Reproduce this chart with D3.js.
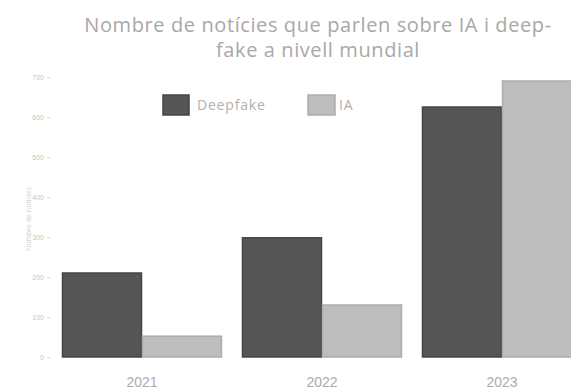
<!DOCTYPE html>
<html>
<head>
<meta charset="utf-8">
<script src="https://cdn.jsdelivr.net/npm/d3@7"></script>
<style>
  html, body { margin: 0; padding: 0; background: #fff; overflow: hidden; }
  svg { display: block; font-family: "Open Sans", "DejaVu Sans", sans-serif; }
</style>
</head>
<body>
<svg id="chart" width="571" height="392"></svg>
<script>
// Anys i sèries
const years = ["2021", "2022", "2023"];
const seriesNames = ["Deepfake", "IA"];
const deepfakeValues = [210, 298, 625];
const iaValues = [52, 130, 690];
const yTicks = [0, 100, 200, 300, 400, 500, 600, 700];
const titleLines = ["Nombre de notícies que parlen sobre IA i deep-", "fake a nivell mundial"];
const yLabel = "Nombre de notícies";

const colors = { Deepfake: "#555555", IA: "#bdbdbd" };
const strokes = { Deepfake: "#454545", IA: "#adadad" };

const svg = d3.select("#chart");

const rows = years.map((y, i) => ({ year: y, Deepfake: deepfakeValues[i], IA: iaValues[i] }));

const x0 = d3.scaleBand().domain(years).range([52, 592]).paddingInner(0.111).paddingOuter(0.0555);
const x1 = d3.scaleBand().domain(seriesNames).range([0, x0.bandwidth()]).padding(0);
const y = d3.scaleLinear().domain([0, 700]).range([357, 77]);

// Eix Y
const yAxis = svg.append("g").attr("transform", "translate(50,0)")
  .call(d3.axisLeft(y).tickValues(yTicks).tickSize(3).tickPadding(3));
yAxis.select(".domain").remove();
yAxis.selectAll("line").attr("stroke", "#ddd");
yAxis.selectAll("text").attr("fill", "#c4c4c4").style("font-size", "7px");

svg.append("text")
  .attr("transform", `translate(31,${(y(0) + y(700)) / 2 + 2}) rotate(-90)`)
  .attr("text-anchor", "middle")
  .attr("fill", "#d0d0d0")
  .style("font-size", "7px")
  .text(yLabel);

// Barres
const groups = svg.append("g").selectAll("g").data(rows).join("g")
  .attr("transform", d => `translate(${x0(d.year)},0)`);
groups.selectAll("rect")
  .data(d => seriesNames.map(k => ({ key: k, value: d[k] })))
  .join("rect")
  .attr("x", d => x1(d.key) + 0.5)
  .attr("y", d => y(d.value))
  .attr("width", x1.bandwidth() - 1)
  .attr("height", d => y(0) - y(d.value))
  .attr("fill", d => colors[d.key])
  .attr("stroke", d => strokes[d.key])
  .attr("stroke-width", 1.5);

// Eix X
const xAxis = svg.append("g").attr("transform", `translate(0,${y(0)})`)
  .call(d3.axisBottom(x0).tickSize(0).tickPadding(20));
xAxis.select(".domain").remove();
xAxis.selectAll("text").attr("fill", "#aaa").style("font-size", "14px")
  .attr("x", 0);

// Títol
svg.append("g").selectAll("text").data(titleLines).join("text")
  .attr("x", 318)
  .attr("y", (d, i) => 32 + i * 25)
  .attr("text-anchor", "middle")
  .attr("fill", "#a8a8a8")
  .style("font-size", "20px")
  .style("letter-spacing", "0.6px")
  .text(d => d);

// Llegenda
const legendItems = [
  { key: "Deepfake", x: 163, w: 26, gap: 8 },
  { key: "IA", x: 308, w: 27, gap: 4 }
];
const legend = svg.append("g");
legendItems.forEach(it => {
  legend.append("rect")
    .attr("x", it.x).attr("y", 95).attr("width", it.w).attr("height", 20)
    .attr("fill", colors[it.key]).attr("stroke", strokes[it.key]).attr("stroke-width", 1.5);
  legend.append("text")
    .attr("x", it.x + it.w + it.gap).attr("y", 110)
    .attr("fill", "#b0b0b0").style("font-size", "14px")
    .style("letter-spacing", "0.8px")
    .text(it.key);
});
</script>
</body>
</html>
